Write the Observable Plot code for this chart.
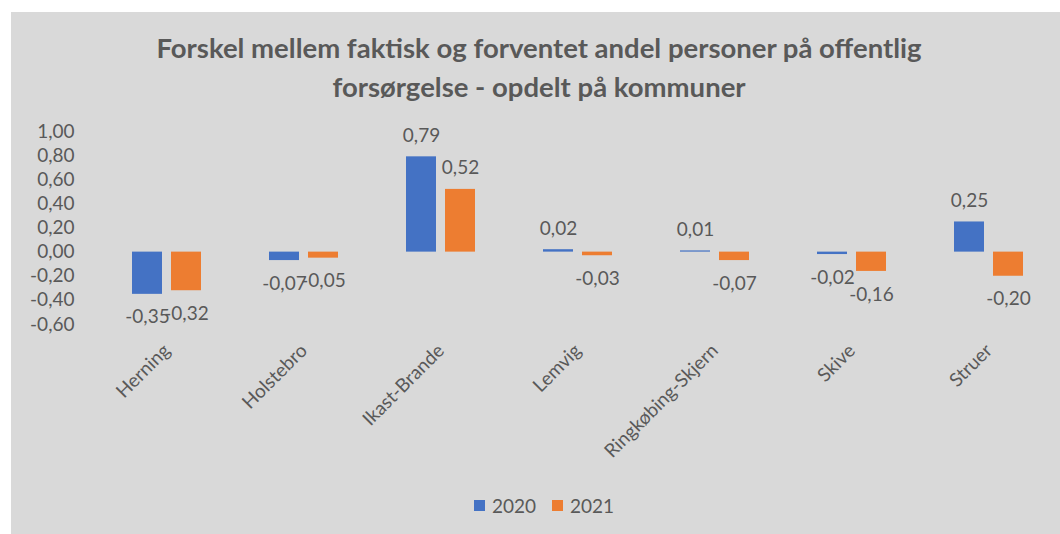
<!DOCTYPE html>
<html><head><meta charset="utf-8">
<script src="https://cdn.jsdelivr.net/npm/d3@7"></script>
<script src="https://cdn.jsdelivr.net/npm/@observablehq/plot@0.6"></script>
<style>
html,body{margin:0;padding:0;background:#fff;width:1060px;height:534px;overflow:hidden;}
#panel{position:absolute;left:11px;top:12px;width:1049px;height:522px;background:#d9d9d9;font-family:Lato, sans-serif;color:#595959;overflow:hidden;}
#title{position:absolute;left:0;width:1056px;top:17px;text-align:center;font-weight:bold;font-size:27.5px;line-height:38.5px;white-space:nowrap;}
#chart{position:absolute;left:0;top:98px;}
#legend{position:absolute;left:0;top:482px;width:1066px;display:flex;justify-content:center;align-items:center;font-size:19px;height:22px;}
#legend .item{display:flex;align-items:center;margin:0 8px;}
#legend .sw{width:11px;height:11px;margin-right:7px;}
</style></head>
<body>
<div id="panel">
  <div id="title">Forskel mellem faktisk og forventet andel personer på offentlig<br>forsørgelse - opdelt på kommuner</div>
  <div id="chart"></div>
  <div id="legend"></div>
</div>
<script>
const kommuner = ["Herning","Holstebro","Ikast-Brande","Lemvig","Ringkøbing-Skjern","Skive","Struer"];
const years = ["2020","2021"];
const v2020 = [-0.35,-0.07,0.79,0.02,0.01,-0.02,0.25];
const v2021 = [-0.32,-0.05,0.52,-0.03,-0.07,-0.16,-0.20];
const yTicks = [-0.6,-0.4,-0.2,0,0.2,0.4,0.6,0.8,1.0];
const colors = ["#4472C4","#ED7D31"];

const fmt = v => v.toFixed(2).replace(".", ",");
const data = [];
kommuner.forEach((k,i)=>{
  data.push({kommune:k, year:years[0], value:v2020[i]});
  data.push({kommune:k, year:years[1], value:v2021[i]});
});
const pos = data.filter(d=>d.value>=0);
const neg = data.filter(d=>d.value<0);

const chart = Plot.plot({
  width:1049, height:370,
  marginLeft:84, marginRight:0, marginTop:21, marginBottom:156,
  style:{background:"transparent", fontFamily:"Lato, sans-serif", fontSize:"19px", color:"#595959", overflow:"visible"},
  fx:{domain:kommuner, padding:0, axis:null, label:null},
  x:{domain:years, paddingInner:0.225, paddingOuter:0.836, axis:null},
  y:{domain:[-0.6,1.0], axis:null},
  color:{domain:years, range:colors},
  marks:[
    Plot.axisY(yTicks, {tickSize:0, tickPadding:24, tickFormat:fmt, label:null}),
    Plot.axisFx({anchor:"bottom", tickRotate:-45, tickSize:0, tickPadding:23, dx:0, label:null}),
    Plot.barY(data, {fx:"kommune", x:"year", y:"value", fill:"year"}),
    Plot.text(pos, {fx:"kommune", x:"year", y:"value", text:d=>fmt(d.value), dy:-21}),
    Plot.text(neg, {fx:"kommune", x:"year", y:"value", text:d=>fmt(d.value), dy:23})
  ]
});
document.getElementById("chart").appendChild(chart);

const legend = document.getElementById("legend");
years.forEach((y,i)=>{
  const it = document.createElement("div"); it.className="item";
  const sw = document.createElement("span"); sw.className="sw"; sw.style.background=colors[i];
  const t = document.createElement("span"); t.textContent=y;
  it.appendChild(sw); it.appendChild(t); legend.appendChild(it);
});
</script>
</body></html>
